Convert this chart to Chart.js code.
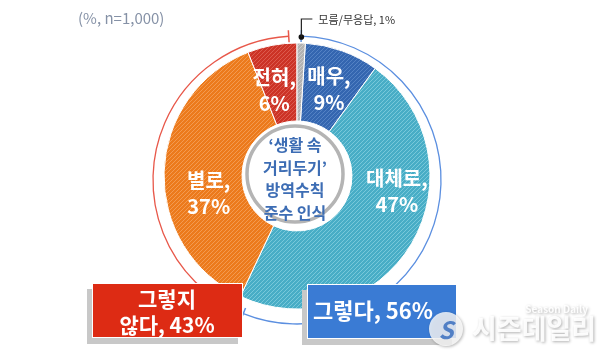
<!DOCTYPE html>
<html>
<head>
<meta charset="utf-8">
<script src="https://cdn.jsdelivr.net/npm/chart.js@4.4.0/dist/chart.umd.min.js"></script>
<style>
html, body { margin: 0; padding: 0; background: #fff; }
#wrap { position: relative; width: 606px; height: 364px; }
</style>
</head>
<body>
<div id="wrap"><canvas id="c" width="606" height="364"></canvas></div>
<script>
// Data
const categories = ['매우', '대체로', '별로', '전혀', '모름/무응답'];
const values = [9, 47, 37, 6, 1];
const groupLabels = ['그렇다', '그렇지 않다', ''];
const groupValues = [56, 43, 1];
const sampleNote = '(%, n=1,000)';
const centerTitle = ['‘생활 속', '거리두기’', '방역수칙', '준수 인식'];

const FONT = "'Noto Sans CJK KR', 'Noto Sans', sans-serif";
const canvas = document.getElementById('c');
const ctx = canvas.getContext('2d');

// Diagonal hatch fill like the original
function hatch(base, stripe) {
    const t = document.createElement('canvas');
    t.width = 4; t.height = 4;
    const g = t.getContext('2d');
    g.fillStyle = base;
    g.fillRect(0, 0, 4, 4);
    g.strokeStyle = stripe;
    g.lineWidth = 1;
    g.beginPath();
    g.moveTo(0, 4); g.lineTo(4, 0);
    g.moveTo(-1, 1); g.lineTo(1, -1);
    g.moveTo(3, 5); g.lineTo(5, 3);
    g.stroke();
    return ctx.createPattern(t, 'repeat');
}

const fills = [
    hatch('#3466b0', '#5482c4'),
    hatch('#48adc6', '#78c8da'),
    hatch('#ec7a1c', '#f39a50'),
    hatch('#cc3326', '#dc5a4e'),
    hatch('#b2b2b2', '#cdcdcd')
];

// label placement: radius and angle nudge (deg) from the slice middle
const labelPlace = [
    { r: 92, nudge: 0.5 },
    { r: 101, nudge: -22 },
    { r: 90, nudge: -13 },
    { r: 89, nudge: -4 },
    null
];

const decorPlugin = {
    id: 'decor',
    afterDatasetsDraw(chart) {
        const c = chart.ctx;
        const main = chart.getDatasetMeta(1);
        const bracket = chart.getDatasetMeta(0);
        const cx = main.data[0].x, cy = main.data[0].y;

        // centre circle
        c.save();
        c.beginPath();
        c.arc(cx - 2, cy - 2, 48, 0, Math.PI * 2);
        c.fillStyle = '#fff';
        c.fill();
        c.lineWidth = 3.5;
        c.strokeStyle = '#b4b4b4';
        c.stroke();
        c.fillStyle = '#3d6db4';
        c.font = 'bold 16px ' + FONT;
        c.textAlign = 'center';
        c.textBaseline = 'middle';
        centerTitle.forEach((t, i) => c.fillText(t, cx - 2, cy - 31 + i * 22.5));
        c.restore();

        // slice labels
        c.save();
        c.fillStyle = '#fff';
        c.font = 'bold 20px ' + FONT;
        c.textAlign = 'center';
        c.textBaseline = 'middle';
        main.data.forEach((arc, i) => {
            const p = labelPlace[i];
            if (!p) return;
            const a = (arc.startAngle + arc.endAngle) / 2 + p.nudge * Math.PI / 180;
            const x = cx + Math.cos(a) * p.r;
            const y = cy + Math.sin(a) * p.r;
            c.fillText(categories[i] + ',', x, y - 13);
            c.fillText(values[i] + '%', x, y + 13);
        });
        c.restore();

        // bracket arcs for the two groups
        const bColors = ['#5b8fe0', '#e8584a'];
        const inset = 0.7 * Math.PI / 180;
        c.save();
        c.lineWidth = 1.3;
        for (let i = 0; i < 2; i++) {
            const el = bracket.data[i];
            const r = el.outerRadius - 1;
            const by = cy + 4;
            const s = el.startAngle + inset, e = el.endAngle - inset;
            c.strokeStyle = bColors[i];
            c.beginPath();
            c.arc(cx, by, r, s, e);
            c.stroke();
            c.lineWidth = 1.5;
            [s, e].forEach(a => {
                c.beginPath();
                c.moveTo(cx + Math.cos(a) * (r - 6), by + Math.sin(a) * (r - 6));
                c.lineTo(cx + Math.cos(a) * (r + 6), by + Math.sin(a) * (r + 6));
                c.stroke();
            });
            c.lineWidth = 1.3;
        }
        c.restore();

        // leader for the 1% slice
        const g = main.data[4];
        const ga = (g.startAngle + g.endAngle) / 2;
        const dx = cx + Math.cos(ga) * (g.outerRadius + 6);
        const dy = cy + Math.sin(ga) * (g.outerRadius + 6);
        c.save();
        c.fillStyle = '#111';
        c.beginPath();
        c.arc(dx, dy, 2.8, 0, Math.PI * 2);
        c.fill();
        c.strokeStyle = '#222';
        c.lineWidth = 1.2;
        c.beginPath();
        c.moveTo(dx, dy);
        c.lineTo(dx, 19);
        c.lineTo(dx + 11, 19);
        c.stroke();
        c.fillStyle = '#333';
        c.font = '11px ' + FONT;
        c.textBaseline = 'middle';
        c.fillText(categories[4] + ', ' + values[4] + '%', dx + 17, 20);
        c.restore();

        // sample note
        c.save();
        c.fillStyle = '#8591a6';
        c.font = '15px ' + FONT;
        c.textBaseline = 'middle';
        c.fillText(sampleNote, 78, 18);
        c.restore();
    },
    afterDraw(chart) {
        const c = chart.ctx;
        // group boxes
        function box(x, y, w, h, fill) {
            c.fillStyle = '#c8c8c8';
            c.fillRect(x - 5, y + 6, w, h);
            c.fillStyle = fill;
            c.fillRect(x, y, w, h);
            c.strokeStyle = '#fff';
            c.lineWidth = 1;
            c.strokeRect(x + 0.5, y + 0.5, w - 1, h - 1);
        }
        c.save();
        box(92, 283, 151, 55, '#dd2b14');
        box(307, 284, 150, 55, '#3a7bd4');
        c.fillStyle = '#fff';
        c.font = 'bold 21px ' + FONT;
        c.textAlign = 'center';
        c.textBaseline = 'middle';
        const parts = groupLabels[1].split(' ');
        c.fillText(parts[0], 167, 299);
        c.fillText(parts[1] + ', ' + groupValues[1] + '%', 167, 325);
        c.font = 'bold 22px ' + FONT;
        c.textAlign = 'left';
        c.fillText(groupLabels[0] + ', ' + groupValues[0] + '%', 313, 311);
        c.restore();

        // watermark
        c.save();
        c.shadowColor = 'rgba(0,0,0,0.35)';
        c.shadowBlur = 3;
        c.shadowOffsetX = 1;
        c.shadowOffsetY = 1;
        c.fillStyle = 'rgba(255,255,255,0.8)';
        c.beginPath();
        c.arc(446, 329, 17, 0, Math.PI * 2);
        c.fill();
        c.font = 'bold 27px ' + FONT;
        c.textBaseline = 'middle';
        c.fillStyle = 'rgba(255,255,255,0.92)';
        c.fillText('시즌데일리', 472, 329);
        c.font = 'bold 10px ' + FONT;
        c.textAlign = 'right';
        c.fillText('Season Daily', 588, 309);
        c.shadowColor = 'transparent';
        c.fillStyle = 'rgba(58,110,190,0.85)';
        c.font = 'italic bold 24px ' + FONT;
        c.textAlign = 'center';
        c.fillText('S', 446, 330);
        c.restore();
    }
};

new Chart(canvas, {
    type: 'doughnut',
    data: {
        labels: categories,
        datasets: [
            {
                label: 'group',
                data: groupValues,
                backgroundColor: 'rgba(0,0,0,0)',
                borderWidth: 0,
                weight: 12,
                rotation: 1
            },
            {
                label: 'answers',
                data: values,
                backgroundColor: fills,
                borderColor: '#ffffff',
                borderWidth: 1,
                weight: 78,
                rotation: 3.6
            }
        ]
    },
    options: {
        responsive: false,
        animation: false,
        cutout: 55,
        layout: { padding: { top: 31, bottom: 43, left: 0, right: 12 } },
        plugins: {
            legend: { display: false },
            tooltip: { enabled: false }
        }
    },
    plugins: [decorPlugin]
});
</script>
</body>
</html>
